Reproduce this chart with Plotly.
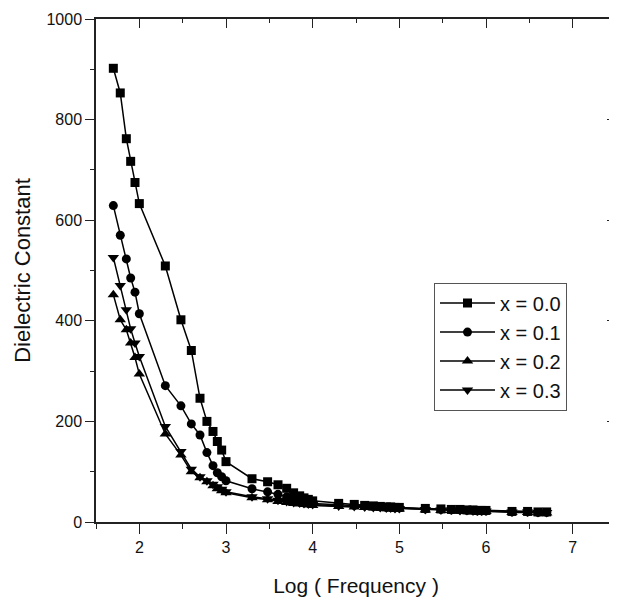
import plotly.graph_objects as go

log_freq = [1.70, 1.78, 1.85, 1.90, 1.95, 2.00, 2.30, 2.48, 2.60, 2.70, 2.78, 2.85, 2.90, 2.95, 3.00,
            3.30, 3.48, 3.60, 3.70, 3.78, 3.85, 3.90, 3.95, 4.00,
            4.30, 4.48, 4.60, 4.70, 4.78, 4.85, 4.90, 4.95, 5.00,
            5.30, 5.48, 5.60, 5.70, 5.78, 5.85, 5.90, 5.95, 6.00,
            6.30, 6.48, 6.60, 6.70]

eps_x00 = [902, 853, 762, 717, 675, 633, 509, 402, 341, 246, 200, 180, 160, 143, 120,
           86, 80, 74, 67, 58, 52, 48, 45, 42,
           37, 35, 33, 32, 31, 30, 30, 29, 29,
           27, 26, 25, 25, 24, 24, 23, 23, 23,
           21, 21, 20, 20]
eps_x01 = [629, 570, 523, 485, 457, 414, 271, 231, 195, 173, 138, 112, 98, 90, 82,
           66, 60, 55, 50, 46, 43, 41, 39, 37,
           35, 33, 32, 31, 30, 29, 29, 28, 28,
           26, 25, 24, 24, 23, 23, 22, 22, 22,
           20, 20, 19, 19]
eps_x02 = [452, 402, 382, 356, 327, 294, 175, 133, 100, 88, 80, 72, 66, 62, 58,
           48, 44, 41, 39, 37, 36, 35, 34, 33,
           31, 30, 29, 28, 28, 27, 27, 26, 26,
           24, 23, 23, 22, 22, 21, 21, 21, 21,
           19, 19, 18, 18]
eps_x03 = [526, 470, 422, 384, 356, 329, 190, 140, 105, 90, 82, 75, 70, 65, 60,
           50, 46, 43, 41, 39, 38, 37, 36, 35,
           32, 31, 30, 29, 29, 28, 28, 27, 27,
           25, 24, 24, 23, 23, 22, 22, 22, 22,
           20, 20, 19, 19]

series = [
    ("x = 0.0", eps_x00, "square", 9),
    ("x = 0.1", eps_x01, "circle", 9),
    ("x = 0.2", eps_x02, "triangle-up", 10),
    ("x = 0.3", eps_x03, "triangle-down", 10),
]

fig = go.Figure()
for name, ys, sym, sz in series:
    fig.add_trace(go.Scatter(
        x=log_freq, y=ys, name=name, mode="lines+markers",
        line=dict(color="black", width=1.5),
        marker=dict(symbol=sym, size=sz, color="black"),
    ))

font = "Liberation Sans, Arial, sans-serif"
txt = "#111"
common = dict(showgrid=False, zeroline=False, showline=True, linecolor="#222", linewidth=1.5,
              automargin=False, tickcolor="#222")
# the page body adds an 8px offset, so the figure is sized to fit the window
fig.update_layout(
    width=609, height=594,
    margin=dict(l=88, r=1, t=11, b=80),
    paper_bgcolor="white", plot_bgcolor="white",
    font=dict(family=font, color=txt, size=16),
    showlegend=True,
    legend=dict(x=0.65, y=0.476, xanchor="left", yanchor="top",
                bordercolor="#555", borderwidth=1, bgcolor="white",
                font=dict(size=20, color=txt), itemwidth=55,
                tracegroupgap=0),
    xaxis=dict(range=[1.5, 7.5], tickmode="linear", tick0=2, dtick=1,
               ticks="outside", ticklen=10,
               minor=dict(dtick=0.5, tick0=2, ticks="outside", ticklen=5, tickcolor="#222"),
               title=dict(text="Log ( Frequency )", font=dict(size=21), standoff=23),
               tickfont=dict(size=16), **common),
    yaxis=dict(range=[0, 1000], tickmode="linear", tick0=0, dtick=200,
               ticks="outside", ticklen=9,
               minor=dict(dtick=100, ticks="outside", ticklen=4, tickcolor="#222"),
               title=dict(text="Dielectric Constant", font=dict(size=22), standoff=10),
               tickfont=dict(size=16), **common),
    xaxis2=dict(overlaying="x", side="top", matches="x", range=[1.5, 7.5],
                tickmode="linear", tick0=2, dtick=1, ticks="inside", ticklen=9,
                minor=dict(dtick=0.5, tick0=2, ticks="inside", ticklen=4, tickcolor="#222"),
                showticklabels=False, **common),
    yaxis2=dict(overlaying="y", side="right", matches="y", range=[0, 1000],
                tickmode="linear", tick0=0, dtick=200, ticks="inside", ticklen=9,
                minor=dict(dtick=100, ticks="inside", ticklen=4, tickcolor="#222"),
                showticklabels=False, **common),
)
# invisible helper trace so the mirrored top/right axes are drawn
fig.add_trace(go.Scatter(x=[log_freq[0]], y=[eps_x00[0]], xaxis="x2", yaxis="y2",
                         mode="markers", marker=dict(opacity=0), showlegend=False,
                         hoverinfo="skip"))

fig.write_html("out.html")
